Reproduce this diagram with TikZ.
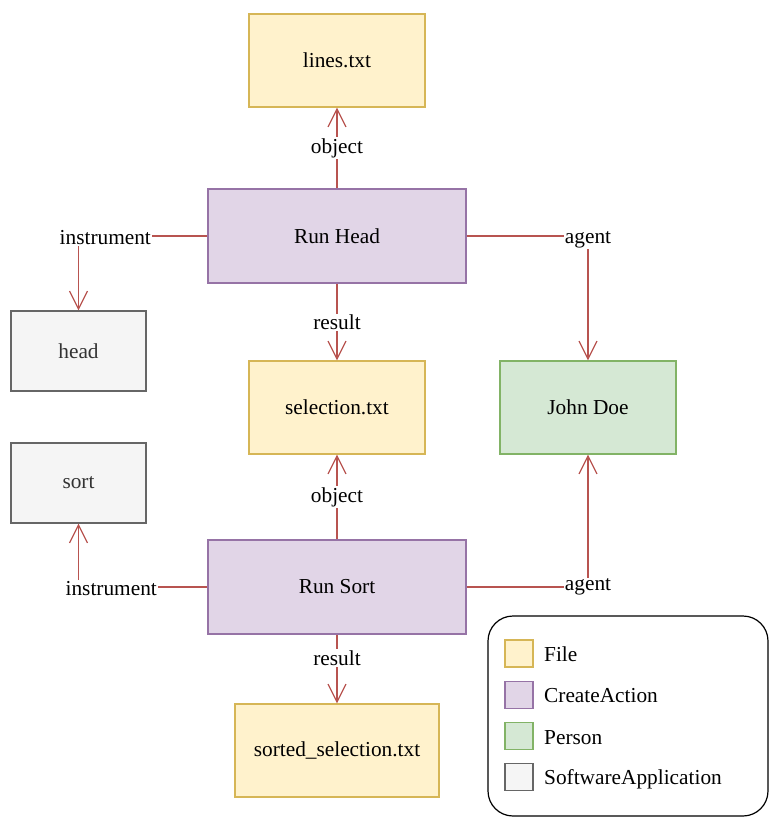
\documentclass[tikz,border=0pt]{standalone}
\usepackage{fontspec}
\setmainfont{Liberation Serif}
\usetikzlibrary{arrows.meta}

\definecolor{filefill}{HTML}{FFF2CC}
\definecolor{filedraw}{HTML}{D6B656}
\definecolor{actfill}{HTML}{E1D5E7}
\definecolor{actdraw}{HTML}{9673A6}
\definecolor{personfill}{HTML}{D5E8D4}
\definecolor{persondraw}{HTML}{82B366}
\definecolor{appfill}{HTML}{F5F5F5}
\definecolor{appdraw}{HTML}{666666}
\definecolor{appsoft}{HTML}{333333}
\definecolor{reldraw}{HTML}{B85450}

\tikzset{
  file/.style={draw=filedraw, fill=filefill, line width=1.2bp, minimum width=176bp, minimum height=93bp},
  action/.style={draw=actdraw, fill=actfill, line width=1.2bp, minimum width=258bp, minimum height=94bp},
  person/.style={draw=persondraw, fill=personfill, line width=1.2bp, minimum width=176bp, minimum height=93bp},
  app/.style={draw=appdraw, fill=appfill, text=appsoft, line width=1.2bp, minimum width=135bp, minimum height=80bp},
  rel/.style={draw=reldraw, line width=1.2bp, -{Straight Barb[length=18bp,width=18bp]}},
  lbl/.style={fill=white, inner sep=1bp},
  key/.style={minimum width=28bp, minimum height=27bp},
}

\begin{document}
\begin{tikzpicture}[x=1bp, y=-1bp, font=\fontsize{21.4}{25}\selectfont]

    \useasboundingbox (0,0) rectangle (769,818);

    \node [file] (lines) at (337,60.5) {lines.txt};
    \node [action] (runhead) at (337,236) {Run Head};
    \node [app] (head) at (78.5,351) {head};
    \node [file] (selection) at (337,407.5) {selection.txt};
    \node [person] (john) at (588,407.5) {John Doe};
    \node [app] (sort) at (78.5,483) {sort};
    \node [action] (runsort) at (337,587) {Run Sort};
    \node [file, minimum width=204bp] (sorted) at (337,750.5) {sorted\_selection.txt};

    \draw [rel] (runhead.north) -- node [lbl] (objhead) {object} (lines.south);
    \draw [rel] (runhead.south) -- node [lbl] (reshead) {result} (selection.north);
    \draw [rel] (runhead.west) -| node [lbl, pos=0.396, yshift=-1.5bp] (insthead) {instrument} (head.north);
    \draw [rel] (runhead.east) -| node [lbl, pos=0.5, yshift=-3.5bp] (agenthead) {agent} (john.north);

    \draw [rel] (runsort.north) -- node [lbl] (objsort) {object} (selection.south);
    \draw [rel] (runsort.south) -- node [lbl, pos=0.34] (ressort) {result} (sorted.north);
    \draw [rel] (runsort.west) -| node [lbl, pos=0.373, yshift=-1.5bp] (instsort) {instrument} (sort.south);
    \draw [rel] (runsort.east) -| node [lbl, pos=0.5, yshift=0bp] (agentsort) {agent} (john.south);

    \draw [line width=1.2bp, rounded corners=25bp] (488,616) rectangle (768,816);
    \node [file, key] (keyfile) at (519,653.5) {};
    \node [action, key] (keyact) at (519,695) {};
    \node [person, key] (keyperson) at (519,736) {};
    \node [app, key] (keyapp) at (519,777) {};
    \node [anchor=west, inner sep=0pt] (txtfile) at (544,654) {File};
    \node [anchor=west, inner sep=0pt] (txtact) at (544,695.5) {CreateAction};
    \node [anchor=west, inner sep=0pt] (txtperson) at (544,737.5) {Person};
    \node [anchor=west, inner sep=0pt] (txtapp) at (544,779.5) {SoftwareApplication};

\end{tikzpicture}
\end{document}
